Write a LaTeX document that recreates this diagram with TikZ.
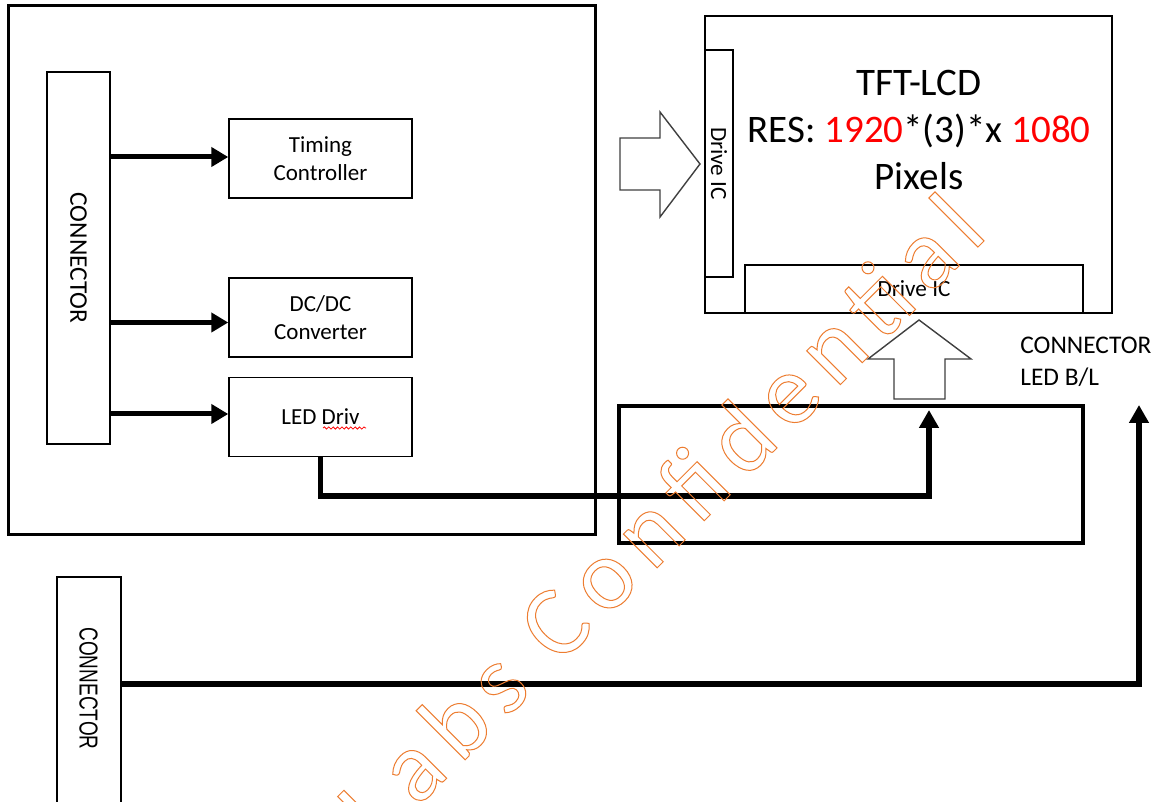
\documentclass[tikz,border=0pt]{standalone}
\usepackage{fontspec}
\setmainfont{Carlito}
\newfontfamily\arialf{Liberation Sans}
\newfontfamily\wmfont[LetterSpace=13]{Carlito}
\usetikzlibrary{arrows.meta,decorations.pathmorphing,calc}
\definecolor{wmorange}{HTML}{ED7D31}
\definecolor{hollowgray}{HTML}{404040}
\definecolor{resred}{HTML}{FF0000}
\tikzset{
  plainbox/.style={draw=black, line width=0.75pt, inner sep=0pt, align=center,
    font=\fontsize{11.5}{14}\selectfont},
  thickarrow/.style={line width=2.5pt, -{Triangle[length=8.5pt,width=9.5pt]}},
  wire/.style={line width=2.8pt, -{Triangle[length=9pt,width=9.5pt]}},
  hollow/.style={draw=hollowgray, line width=0.7pt, line join=miter},
  lbl/.style={inner sep=0pt}
}
\begin{document}
\begin{tikzpicture}[x=0.5pt,y=-0.5pt]
\useasboundingbox (0,0) rectangle (1164,802);
\fill[white] (0,0) rectangle (1164,802);

% left module
\node[draw=black, line width=1.25pt, inner sep=0pt, minimum width=293.5pt, minimum height=264.5pt] (outer) at (302,270) {};
\node[plainbox, minimum width=31.5pt, minimum height=186pt] (conn1) at (78.5,258) {};
\node[lbl, rotate=-90, font=\fontsize{12.7}{15}\selectfont] (conn1t) at (conn1.center) {CONNECTOR};
\node[plainbox, minimum width=91.5pt, minimum height=39.5pt] (tc) at (320.5,158.5) {Timing\\Controller};
\node[plainbox, minimum width=91.5pt, minimum height=39.5pt] (dc) at (320.5,317.5) {DC/DC\\Converter};
\node[plainbox, minimum width=91.5pt, minimum height=39.5pt] (led) at (320.5,417) {LED Driv};
\draw[red, line width=0.4pt, decorate, decoration={snake, amplitude=0.55pt, segment length=2.2pt}] (323,428) -- (366,428);

\coordinate (tcin) at ([yshift=0.75pt]tc.west);
\coordinate (dcin) at ([yshift=-2.5pt]dc.west);
\coordinate (ledin) at ([yshift=1.5pt]led.west);
\draw[thickarrow] (conn1.east |- tcin) -- (tcin);
\draw[thickarrow] (conn1.east |- dcin) -- (dcin);
\draw[thickarrow] (conn1.east |- ledin) -- (ledin);

% TFT-LCD panel
\node[draw=black, line width=1pt, inner sep=0pt, minimum width=203.5pt, minimum height=148.5pt] (tft) at (908,164.5) {};
\node[plainbox, minimum width=14pt, minimum height=113.5pt] (dicl) at (719,163.5) {};
\node[lbl, rotate=-90, font=\fontsize{11.6}{14}\selectfont] (diclt) at (dicl.center) {Drive IC};
\node[plainbox, minimum width=169pt, minimum height=24pt, font=\fontsize{11.6}{14}\selectfont] (dicb) at (914,289) {Drive IC};
\node[lbl, align=center, font=\fontsize{19.5}{23.5}\selectfont] (tftt) at (919,130)
  {TFT-LCD\\RES: \textcolor{resred}{1920}*(3)*x \textcolor{resred}{1080}\\Pixels};

% hollow block arrows
\draw[hollow] (620,138) -- (660,138) -- (660,112) -- (700,164) -- (660,217) -- (660,190) -- (620,190) -- cycle;
\draw[hollow] (894,399) -- (894,359) -- (868,359) -- (919,320) -- (971,359) -- (945,359) -- (945,399) -- cycle;

% backlight area
\node[draw=black, line width=1.6pt, inner sep=0pt, minimum width=232pt, minimum height=68.5pt] (bl) at (851,474.5) {};
\node[lbl, anchor=base west, font=\fontsize{12.7}{15}\selectfont] (blt1) at (1020,354) {CONNECTOR};
\node[lbl, anchor=base west, font=\fontsize{12.7}{15}\selectfont] (blt2) at (1020,386) {LED B/L};

% bottom connector
\node[draw=black, line width=0.75pt, inner sep=0pt, minimum width=32pt, minimum height=117pt] (conn2) at (89,694) {};
\node[lbl, rotate=-90, font=\arialf\fontsize{13}{15}\selectfont] (conn2t) at (88.5,688.5) {\scalebox{0.73}[1]{CONNECTOR}};

% wires
\coordinate (ledtip) at (929,410);
\coordinate (bltip) at (1139,405);
\coordinate (c2out) at (121,684);
\draw[wire] (led.south) -- ++(0,39) -| (ledtip);
\draw[wire] (c2out) -| (bltip);

% watermark
\node[lbl, rotate=45, anchor=base west, text=wmorange, font=\wmfont\fontsize{50}{60}\selectfont] (wm) at (378,847)
  {\special{pdf:literal direct 1 Tr 0.5 w}Labs Confidential\special{pdf:literal direct 0 Tr}};
\end{tikzpicture}
\end{document}
